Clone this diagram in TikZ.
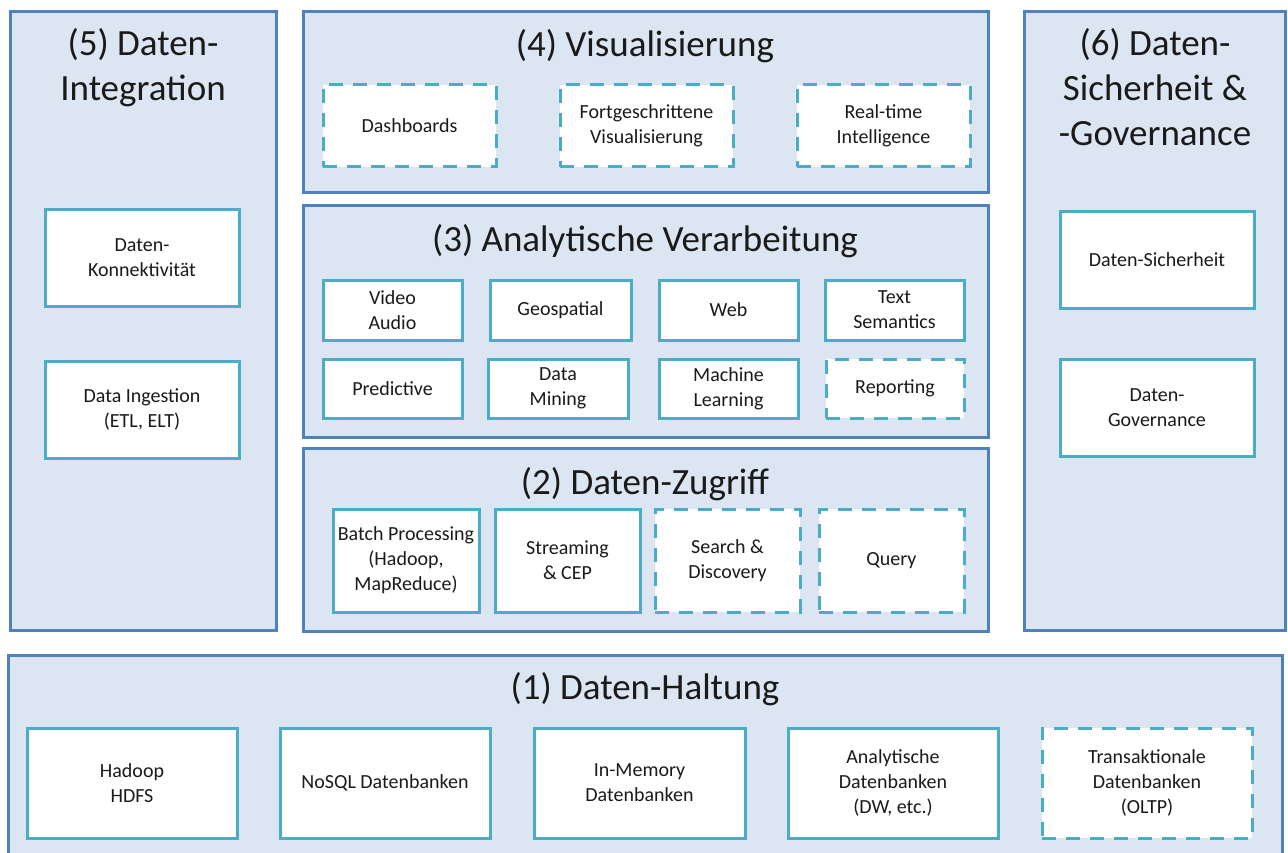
\documentclass[tikz,border=0pt]{standalone}
\usepackage{fontspec}
\setmainfont{Carlito}
\definecolor{panelfill}{HTML}{DCE6F2}
\definecolor{panelline}{HTML}{4F81BD}
\definecolor{itemline}{HTML}{4BACC6}
\definecolor{inktext}{HTML}{1A1A1A}
\tikzset{
  panel/.style={draw=panelline, fill=panelfill, line width=3pt, rectangle, inner sep=0pt},
  item/.style={draw=itemline, fill=white, line width=3pt, rectangle, align=center,
    font=\fontsize{20}{25}\selectfont, text=inktext, inner sep=0pt},
  itemdash/.style={item, dash pattern=on 14pt off 10pt},
  heading/.style={font=\fontsize{37}{45}\selectfont, text=inktext, align=center, inner sep=0pt}
}
% \bx{style}{name}{x1}{y1}{x2}{y2}{text}: box given by its corners
\newcommand\bx[7]{%
  \node[#1, minimum width={#5-#3}, minimum height={#6-#4}]
    (#2) at ({(#3+#5)/2},{(#4+#6)/2}) {#7};}
\begin{document}
\begin{tikzpicture}[x=1pt, y=-1pt]
\clip (0,0) rectangle (1288,853);
\fill[white] (0,0) rectangle (1288,853);

% panels
\bx{panel}{p5}{10}{12}{276}{630}{}
\bx{panel}{p4}{303}{12}{988}{193}{}
\bx{panel}{p3}{303}{206}{988}{437}{}
\bx{panel}{p2}{303}{448}{988}{631}{}
\bx{panel}{p6}{1024}{12}{1285}{630}{}
\bx{panel}{p1}{8}{655}{1282}{880}{}

% headings
\node[heading, anchor=north] (h5) at (143,28) {(5) Daten-\\Integration};
\node[heading] (h4) at (645,46) {(4) Visualisierung};
\node[heading] (h3) at (645,241) {(3) Analytische Verarbeitung};
\node[heading] (h2) at (645,484) {(2) Daten-Zugriff};
\node[heading, anchor=north] (h6) at (1155,28) {(6) Daten-\\Sicherheit \&\\-Governance};
\node[heading] (h1) at (645,689) {(1) Daten-Haltung};

% (5) Daten-Integration
\bx{item}{konn}{45}{210}{239}{306}{Daten-\\Konnektivität}
\bx{item}{ingest}{45}{361}{239}{458}{Data Ingestion\\(ETL, ELT)}

% (4) Visualisierung
\bx{itemdash}{dash}{323}{85}{496}{167}{Dashboards}
\bx{itemdash}{fvis}{560}{85}{733}{167}{Fortgeschrittene\\Visualisierung}
\bx{itemdash}{rti}{797}{85}{970}{167}{Real-time\\Intelligence}

% (3) Analytische Verarbeitung
\bx{item}{video}{323}{280}{462}{340}{Video\\Audio}
\bx{item}{geo}{490}{280}{631}{340}{Geospatial}
\bx{item}{web}{659}{280}{798}{340}{Web}
\bx{item}{text}{825}{280}{964}{340}{Text\\Semantics}
\bx{item}{pred}{323}{359}{462}{418}{Predictive}
\bx{item}{mining}{488}{359}{628}{418}{Data\\Mining}
\bx{item}{ml}{659}{359}{798}{418}{Machine\\Learning}
\bx{itemdash}{report}{826}{359}{964}{418}{Reporting}

% (2) Daten-Zugriff
\bx{item}{batch}{333}{509}{479}{612}{Batch Processing\\(Hadoop,\\MapReduce)}
\bx{item}{stream}{495}{509}{640}{612}{Streaming\\\& CEP}
\bx{itemdash}{search}{655}{509}{800}{612}{Search \&\\Discovery}
\bx{itemdash}{query}{819}{509}{964}{612}{Query}

% (6) Daten-Sicherheit & -Governance
\bx{item}{sich}{1060}{212}{1254}{308}{Daten-Sicherheit}
\bx{item}{gov}{1060}{359}{1254}{456}{Daten-\\Governance}

% (1) Daten-Haltung
\bx{item}{hdfs}{27}{728}{237}{838}{Hadoop\\HDFS}
\bx{item}{nosql}{280}{728}{490}{838}{NoSQL Datenbanken}
\bx{item}{inmem}{534}{728}{745}{838}{In-Memory\\Datenbanken}
\bx{item}{adb}{788}{728}{998}{838}{Analytische\\Datenbanken\\(DW, etc.)}
\bx{itemdash}{oltp}{1042}{728}{1252}{838}{Transaktionale\\Datenbanken\\(OLTP)}
\end{tikzpicture}
\end{document}
